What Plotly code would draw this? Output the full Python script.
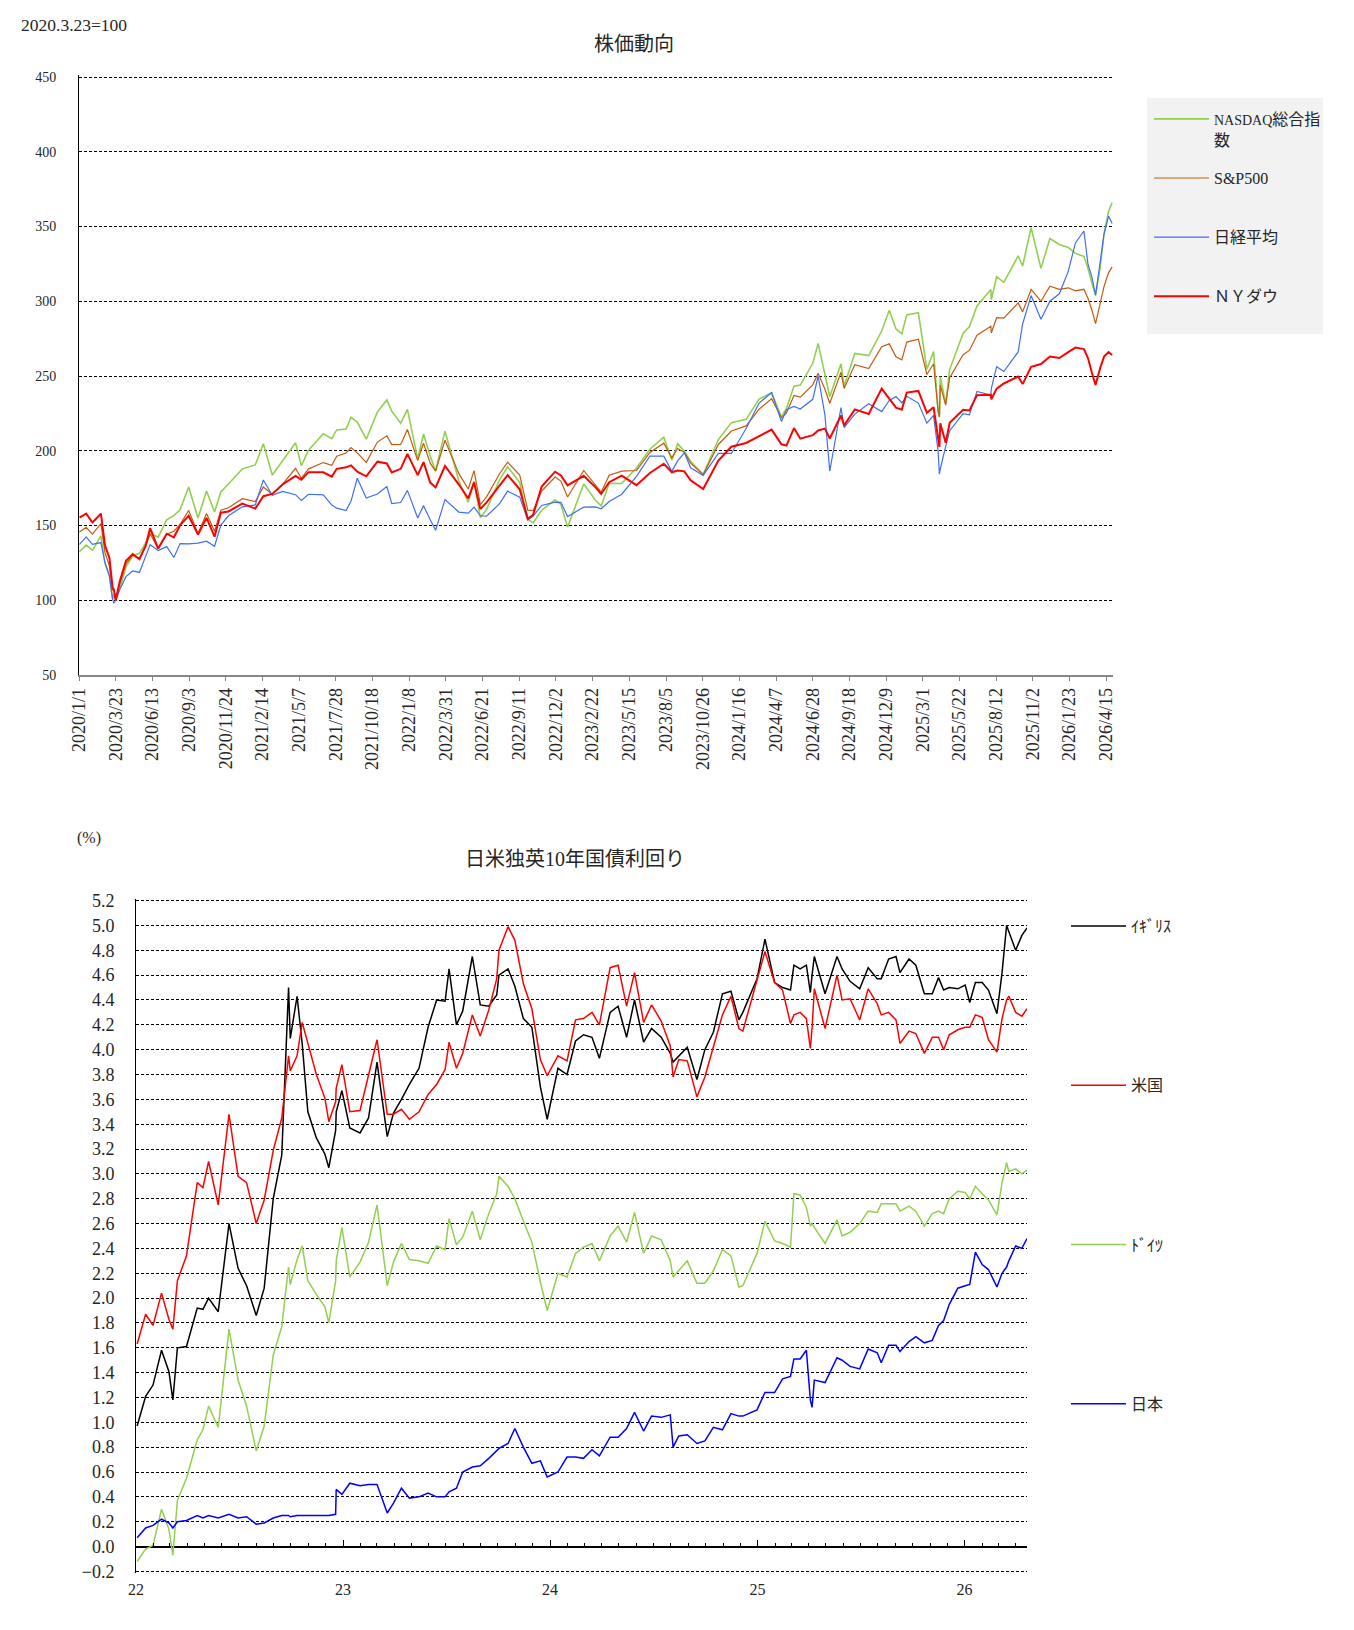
import pandas as pd
import plotly.graph_objects as go

FONT = "'Liberation Serif', 'Noto Sans CJK JP', serif"
TEXT = "#262626"

# ---------------- 株価動向 (2020.3.23 = 100) ----------------
STOCK_DATES = [
    "2020-01-02", "2020-01-17", "2020-01-31", "2020-02-19", "2020-02-28", "2020-03-09", "2020-03-16", "2020-03-19",
    "2020-03-23", "2020-04-01", "2020-04-15", "2020-04-30", "2020-05-15", "2020-05-29", "2020-06-08", "2020-06-26",
    "2020-07-15", "2020-07-31", "2020-08-14", "2020-09-02", "2020-09-23", "2020-10-12", "2020-10-30", "2020-11-13",
    "2020-11-30", "2020-12-31",
    "2021-01-29", "2021-02-16", "2021-03-08", "2021-03-31", "2021-04-29", "2021-05-12", "2021-05-28", "2021-06-30",
    "2021-07-19", "2021-07-30", "2021-08-20", "2021-08-31", "2021-09-14", "2021-10-04", "2021-10-29", "2021-11-19",
    "2021-11-30", "2021-12-20",
    "2022-01-04", "2022-01-27", "2022-02-09", "2022-02-24", "2022-03-08", "2022-03-29", "2022-04-29", "2022-05-20",
    "2022-06-02", "2022-06-16", "2022-06-30", "2022-07-29", "2022-08-16", "2022-09-12", "2022-09-30", "2022-10-12",
    "2022-10-31", "2022-11-30", "2022-12-13", "2022-12-28",
    "2023-02-02", "2023-02-28", "2023-03-13", "2023-03-31", "2023-04-28", "2023-05-31", "2023-06-30", "2023-07-31",
    "2023-08-18", "2023-08-31", "2023-09-15", "2023-09-29", "2023-10-27", "2023-11-30", "2023-12-29",
    "2024-01-31", "2024-02-29", "2024-03-28", "2024-04-19", "2024-04-30", "2024-05-17", "2024-05-31", "2024-06-28",
    "2024-07-10", "2024-07-25", "2024-08-05", "2024-08-30", "2024-09-06", "2024-09-30", "2024-10-31", "2024-11-29",
    "2024-12-16", "2024-12-31",
    "2025-01-13", "2025-01-24", "2025-02-19", "2025-03-10", "2025-03-25", "2025-04-04", "2025-04-07", "2025-04-09",
    "2025-04-21", "2025-04-30", "2025-05-30", "2025-06-13", "2025-06-30", "2025-07-31", "2025-08-01", "2025-08-13",
    "2025-08-29", "2025-09-30", "2025-10-10", "2025-10-29", "2025-11-20", "2025-12-10", "2025-12-31",
    "2026-01-20", "2026-02-05", "2026-02-24", "2026-03-05", "2026-03-14", "2026-03-22", "2026-04-01", "2026-04-10",
    "2026-04-20", "2026-04-28",
]

NASDAQ = [
    132.5, 136.9, 133.4, 143.1, 124.9, 115.9, 100.6, 104.2, 100.0, 107.3, 122.3, 129.6, 131.4, 138.3, 144.7, 142.2,
    153.8, 156.6, 160.6, 175.7, 155.0, 173.1, 159.1, 172.4, 177.8, 187.9,
    190.5, 204.7, 183.8, 193.1, 205.3, 190.0, 200.4, 211.4, 208.1, 213.9, 214.5, 222.4, 219.2, 207.8, 225.9, 234.0,
    226.5, 218.4,
    227.7, 194.6, 211.2, 196.4, 186.5, 213.1, 179.8, 165.5, 179.5, 155.2, 160.8, 180.6, 189.3, 178.8, 154.2, 151.8,
    160.2, 167.2, 164.1, 148.9,
    177.8, 167.0, 163.1, 178.1, 178.2, 188.5, 201.0, 209.1, 193.7, 204.6, 199.8, 192.7, 184.3, 207.4, 218.8,
    221.0, 234.6, 238.7, 222.7, 228.2, 243.2, 243.9, 258.5, 271.8, 250.4, 236.1, 258.2, 243.3, 265.1, 263.7, 280.1,
    294.0, 281.5,
    278.2, 290.8, 292.3, 254.6, 266.3, 227.2, 222.5, 249.6, 231.3, 254.3, 278.6, 282.9, 296.9, 307.9, 301.0, 316.5,
    312.7, 330.3, 323.6, 349.2, 322.0, 342.0, 338.0,
    336.0, 332.0, 330.0, 322.0, 312.0, 304.0, 322.0, 345.0, 360.0, 366.0,
]

SP500 = [
    145.6, 148.8, 144.2, 151.3, 132.0, 122.8, 106.6, 107.7, 100.0, 110.4, 124.4, 130.2, 128.0, 136.1, 144.5, 134.5,
    144.2, 146.2, 150.8, 160.0, 144.7, 158.0, 146.1, 160.2, 161.9, 167.9,
    166.0, 175.8, 170.8, 177.6, 188.2, 181.6, 187.9, 192.1, 190.3, 196.4, 198.5, 202.1, 198.6, 192.2, 205.8, 210.0,
    204.1, 204.2,
    214.2, 193.4, 205.0, 191.7, 186.4, 207.0, 184.7, 174.4, 186.7, 163.9, 169.2, 184.6, 192.4, 183.7, 160.3, 159.9,
    173.1, 182.4, 179.7, 169.1,
    186.8, 177.4, 172.3, 183.7, 186.4, 186.8, 198.9, 205.1, 195.3, 201.5, 198.9, 191.7, 184.0, 204.2, 213.2,
    216.6, 227.8, 234.8, 222.0, 225.1, 237.0, 235.9, 244.1, 251.8, 241.3, 231.8, 252.5, 241.7, 257.5, 255.0, 269.6,
    271.5, 262.9,
    260.8, 272.7, 274.6, 251.0, 258.2, 226.8, 222.7, 243.9, 230.5, 248.9, 264.2, 267.1, 277.3, 283.3, 278.8, 289.0,
    288.7, 298.9, 292.9, 307.9, 300.0, 310.0, 308.0,
    309.0, 307.0, 308.0, 302.0, 294.0, 285.0, 298.0, 310.0, 319.0, 323.0,
]

NIKKEI = [
    137.4, 142.4, 137.4, 138.6, 125.2, 116.6, 100.7, 98.0, 100.0, 107.0, 115.8, 119.6, 118.6, 129.5, 137.2, 133.3,
    135.9, 128.6, 137.9, 137.7, 138.2, 139.5, 136.1, 150.3, 156.5, 162.5,
    163.8, 180.4, 170.2, 172.8, 170.6, 166.7, 170.9, 170.5, 163.7, 161.6, 160.0, 166.3, 181.6, 168.4, 171.1, 176.1,
    164.7, 165.4,
    173.5, 155.0, 163.3, 153.8, 146.8, 167.3, 159.0, 158.3, 162.3, 156.5, 156.3, 164.6, 173.0, 169.0, 153.6, 156.3,
    163.4, 165.6, 165.5, 156.0,
    162.3, 162.5, 161.2, 166.0, 170.9, 182.9, 196.5, 196.4, 186.2, 193.2, 198.6, 188.6, 183.5, 198.3, 198.2,
    214.9, 231.9, 239.0, 219.5, 227.4, 229.7, 227.9, 234.4, 250.0, 224.2, 186.3, 228.9, 215.5, 224.5, 231.4, 226.2,
    233.6, 236.2,
    232.1, 236.4, 231.9, 218.4, 223.7, 200.0, 184.4, 187.8, 203.0, 213.4, 224.8, 224.0, 239.7, 237.3, 241.6, 256.2,
    253.0, 266.1, 284.8, 303.8, 288.0, 300.0, 305.0,
    320.0, 339.0, 347.0, 325.0, 316.0, 304.0, 325.0, 345.0, 357.0, 352.0,
]

NYDOW = [
    155.3, 157.9, 152.0, 157.9, 136.7, 128.3, 108.6, 107.0, 100.0, 112.6, 126.4, 130.9, 127.4, 136.5, 148.3, 134.6,
    144.5, 142.1, 150.2, 156.5, 143.9, 155.1, 142.5, 158.6, 159.4, 164.6,
    161.3, 169.6, 171.1, 177.4, 183.2, 180.7, 185.7, 185.6, 182.7, 187.9, 188.9, 190.2, 186.0, 182.9, 192.7, 191.5,
    185.5, 187.9,
    197.9, 183.7, 192.4, 178.7, 175.5, 189.8, 177.4, 168.1, 178.8, 161.0, 165.5, 176.7, 183.7, 174.2, 154.5, 157.1,
    176.1, 186.0, 183.5, 176.8,
    183.2, 175.7, 171.1, 179.0, 183.4, 177.0, 185.1, 191.3, 185.6, 186.8, 186.2, 180.2, 174.4, 193.4, 202.7,
    205.2, 209.7, 214.1, 204.3, 203.4, 215.2, 208.1, 210.4, 213.6, 214.8, 208.2, 223.6, 217.0, 227.7, 224.6, 241.6,
    235.1, 228.8,
    227.5, 238.9, 240.0, 225.4, 229.1, 206.1, 202.5, 218.4, 205.3, 218.7, 227.4, 227.0, 237.2, 237.4, 234.4, 241.6,
    245.0, 249.6, 244.6, 256.2, 258.0, 263.0, 262.0,
    266.0, 269.0, 268.0, 262.0, 252.0, 244.0, 255.0, 263.0, 266.0, 264.0,
]

STOCK_NAMES = [
    "<span style='font-size:14px'>NASDAQ</span>総合指<br>数",
    "S&P500<br>\u00a0",
    "日経平均<br>\u00a0",
    "ＮＹダウ<br>\u00a0",
]
STOCK_COLORS = ["#92d050", "#c55a11", "#3f6ff5", "#ff0000"]
STOCK_WIDTHS = [1.6, 1.2, 1.2, 2.0]

STOCK_TICK_LABELS = [
    "2020/1/1", "2020/3/23", "2020/6/13", "2020/9/3", "2020/11/24", "2021/2/14", "2021/5/7", "2021/7/28",
    "2021/10/18", "2022/1/8", "2022/3/31", "2022/6/21", "2022/9/11", "2022/12/2", "2023/2/22", "2023/5/15",
    "2023/8/5", "2023/10/26", "2024/1/16", "2024/4/7", "2024/6/28", "2024/9/18", "2024/12/9", "2025/3/1",
    "2025/5/22", "2025/8/12", "2025/11/2", "2026/1/23", "2026/4/15",
]

# ---------------- 日米独英10年国債利回り (%) ----------------
BOND_DATES = [
    "2022-01-03", "2022-01-18", "2022-01-31", "2022-02-15", "2022-02-28", "2022-03-07", "2022-03-15", "2022-03-31",
    "2022-04-19", "2022-04-29", "2022-05-09", "2022-05-26", "2022-06-14", "2022-06-30", "2022-07-15", "2022-08-01",
    "2022-08-15", "2022-08-31", "2022-09-15", "2022-09-27", "2022-09-30", "2022-10-12", "2022-10-21", "2022-10-31",
    "2022-11-15", "2022-11-30", "2022-12-07", "2022-12-19", "2022-12-20", "2022-12-30",
    "2023-01-13", "2023-01-31", "2023-02-15", "2023-03-02", "2023-03-20", "2023-03-31", "2023-04-14", "2023-04-28",
    "2023-05-15", "2023-05-31", "2023-06-15", "2023-06-30", "2023-07-07", "2023-07-20", "2023-07-31", "2023-08-17",
    "2023-08-31", "2023-09-15", "2023-09-29", "2023-10-03", "2023-10-19", "2023-10-31", "2023-11-15", "2023-11-30",
    "2023-12-15", "2023-12-27",
    "2024-01-15", "2024-01-31", "2024-02-15", "2024-02-29", "2024-03-15", "2024-03-28", "2024-04-16", "2024-04-30",
    "2024-05-15", "2024-05-29", "2024-06-14", "2024-06-28", "2024-07-15", "2024-07-31", "2024-08-05", "2024-08-15",
    "2024-08-30", "2024-09-16", "2024-09-30", "2024-10-15", "2024-10-31", "2024-11-15", "2024-11-29", "2024-12-06",
    "2024-12-31",
    "2025-01-14", "2025-01-31", "2025-02-14", "2025-02-28", "2025-03-06", "2025-03-17", "2025-03-28", "2025-04-04",
    "2025-04-07", "2025-04-11", "2025-04-30", "2025-05-21", "2025-05-30", "2025-06-13", "2025-06-30", "2025-07-15",
    "2025-07-31", "2025-08-07", "2025-08-20", "2025-09-02", "2025-09-09", "2025-09-25", "2025-10-07", "2025-10-22",
    "2025-11-05", "2025-11-16", "2025-11-25", "2025-12-05", "2025-12-20",
    "2026-01-02", "2026-01-10", "2026-01-20", "2026-02-01", "2026-02-12", "2026-02-27", "2026-03-08", "2026-03-16",
    "2026-03-20", "2026-04-01", "2026-04-12", "2026-04-21",
]

UK = [
    0.97, 1.21, 1.30, 1.58, 1.41, 1.18, 1.60, 1.61, 1.92, 1.91, 2.00, 1.89, 2.60, 2.24, 2.10, 1.86,
    2.08, 2.80, 3.15, 4.50, 4.09, 4.43, 4.05, 3.50, 3.29, 3.16, 3.05, 3.35, 3.50, 3.67,
    3.37, 3.33, 3.45, 3.90, 3.30, 3.49, 3.60, 3.72, 3.85, 4.18, 4.40, 4.39, 4.65, 4.20, 4.31, 4.75,
    4.36, 4.35, 4.44, 4.60, 4.65, 4.51, 4.25, 4.18, 3.70, 3.44,
    3.85, 3.80, 4.07, 4.12, 4.10, 3.93, 4.30, 4.35, 4.10, 4.40, 4.06, 4.17, 4.10, 3.97, 3.90, 3.95,
    4.02, 3.76, 4.00, 4.14, 4.45, 4.47, 4.24, 4.30, 4.57,
    4.89, 4.54, 4.50, 4.48, 4.68, 4.65, 4.68, 4.46, 4.60, 4.75, 4.45, 4.75, 4.65, 4.55, 4.49, 4.66,
    4.57, 4.57, 4.73, 4.75, 4.62, 4.73, 4.68, 4.45, 4.45, 4.58, 4.48, 4.50, 4.49,
    4.52, 4.38, 4.54, 4.54, 4.48, 4.29, 4.62, 5.00, 4.95, 4.80, 4.92, 4.98,
]

US = [
    1.63, 1.87, 1.78, 2.04, 1.83, 1.75, 2.14, 2.34, 2.93, 2.89, 3.10, 2.75, 3.48, 2.98, 2.93, 2.60,
    2.79, 3.19, 3.45, 3.95, 3.83, 3.95, 4.22, 4.05, 3.80, 3.61, 3.42, 3.58, 3.69, 3.88,
    3.50, 3.51, 3.80, 4.08, 3.48, 3.48, 3.52, 3.44, 3.50, 3.64, 3.72, 3.84, 4.06, 3.85, 3.97, 4.28,
    4.11, 4.32, 4.57, 4.80, 4.99, 4.88, 4.53, 4.33, 3.92, 3.79,
    3.95, 3.91, 4.24, 4.25, 4.30, 4.20, 4.66, 4.68, 4.35, 4.62, 4.22, 4.36, 4.23, 4.03, 3.78, 3.92,
    3.91, 3.62, 3.78, 4.03, 4.28, 4.43, 4.17, 4.15, 4.57,
    4.79, 4.54, 4.48, 4.21, 4.28, 4.30, 4.25, 4.01, 4.17, 4.49, 4.17, 4.60, 4.40, 4.41, 4.24, 4.49,
    4.37, 4.28, 4.30, 4.24, 4.05, 4.15, 4.13, 3.97, 4.10, 4.10, 4.00, 4.12, 4.16,
    4.18, 4.18, 4.28, 4.26, 4.08, 3.98, 4.25, 4.40, 4.43, 4.30, 4.27, 4.33,
]

DE = [
    -0.12, -0.02, 0.01, 0.30, 0.14, -0.07, 0.37, 0.55, 0.86, 0.94, 1.13, 0.96, 1.75, 1.34, 1.13, 0.77,
    0.97, 1.54, 1.77, 2.25, 2.11, 2.31, 2.42, 2.14, 2.03, 1.93, 1.80, 2.14, 2.30, 2.57,
    2.17, 2.29, 2.45, 2.75, 2.10, 2.29, 2.44, 2.31, 2.30, 2.28, 2.42, 2.39, 2.64, 2.43, 2.49, 2.70,
    2.47, 2.68, 2.84, 2.98, 2.90, 2.80, 2.62, 2.45, 2.13, 1.90,
    2.20, 2.17, 2.36, 2.41, 2.44, 2.30, 2.50, 2.58, 2.45, 2.69, 2.36, 2.50, 2.47, 2.30, 2.17, 2.22,
    2.30, 2.12, 2.12, 2.22, 2.39, 2.34, 2.09, 2.10, 2.36,
    2.62, 2.46, 2.44, 2.41, 2.84, 2.83, 2.73, 2.58, 2.60, 2.57, 2.44, 2.63, 2.50, 2.53, 2.60, 2.70,
    2.69, 2.76, 2.76, 2.76, 2.70, 2.74, 2.70, 2.58, 2.68, 2.70, 2.68, 2.80, 2.86,
    2.85, 2.80, 2.90, 2.84, 2.79, 2.67, 2.93, 3.09, 3.02, 3.04, 3.00, 3.03,
]

JP = [
    0.07, 0.15, 0.17, 0.22, 0.19, 0.15, 0.20, 0.21, 0.25, 0.23, 0.25, 0.23, 0.26, 0.23, 0.24, 0.18,
    0.19, 0.23, 0.25, 0.25, 0.24, 0.25, 0.25, 0.25, 0.25, 0.25, 0.25, 0.26, 0.46, 0.42,
    0.51, 0.49, 0.50, 0.50, 0.27, 0.35, 0.47, 0.39, 0.40, 0.43, 0.40, 0.40, 0.44, 0.47, 0.60, 0.64,
    0.65, 0.71, 0.77, 0.79, 0.83, 0.95, 0.80, 0.67, 0.69, 0.56,
    0.60, 0.72, 0.72, 0.71, 0.78, 0.73, 0.88, 0.88, 0.95, 1.08, 0.93, 1.05, 1.04, 1.06, 0.80, 0.89,
    0.90, 0.83, 0.85, 0.96, 0.94, 1.07, 1.05, 1.05, 1.10,
    1.24, 1.24, 1.35, 1.37, 1.51, 1.51, 1.58, 1.18, 1.12, 1.34, 1.32, 1.52, 1.50, 1.45, 1.43, 1.59,
    1.56, 1.48, 1.62, 1.62, 1.57, 1.65, 1.69, 1.64, 1.66, 1.78, 1.82, 1.95, 2.08,
    2.10, 2.11, 2.37, 2.27, 2.23, 2.09, 2.20, 2.25, 2.30, 2.42, 2.40, 2.48,
]

BOND_NAMES = ["ｲｷﾞﾘｽ", "米国", "ﾄﾞｲﾂ", "日本"]
BOND_COLORS = ["#000000", "#ff0000", "#92d050", "#0000ff"]
BOND_TICK_DATES = ["2022-01-01", "2023-01-01", "2024-01-01", "2025-01-01", "2026-01-01"]
BOND_TICK_LABELS = ["22", "23", "24", "25", "26"]

# ---------------- figure ----------------
W, H = 1354, 1630


def px_x(v):
    return v / W


def px_y(v):
    return 1 - v / H


fig = go.Figure()

stock_series = [NASDAQ, SP500, NIKKEI, NYDOW]
for name, vals, col, wd in zip(STOCK_NAMES, stock_series, STOCK_COLORS, STOCK_WIDTHS):
    fig.add_trace(go.Scatter(
        x=STOCK_DATES, y=vals, mode="lines", name=name, legendgroup=name,
        line=dict(color=col, width=wd), xaxis="x", yaxis="y", legend="legend",
    ))

bond_series = [UK, US, DE, JP]
for name, vals, col in zip(BOND_NAMES, bond_series, BOND_COLORS):
    fig.add_trace(go.Scatter(
        x=BOND_DATES, y=vals, mode="lines", name=name, legendgroup=name,
        line=dict(color=col, width=1.5), xaxis="x2", yaxis="y2", legend="legend2",
    ))

# carrier trace for the tick axis that sits on the 0% line
fig.add_trace(go.Scatter(
    x=BOND_DATES, y=JP, mode="lines", line=dict(color="rgba(0,0,0,0)", width=0),
    xaxis="x3", yaxis="y2", showlegend=False, hoverinfo="skip",
))

stock_tickvals = pd.to_datetime(STOCK_TICK_LABELS, format="%Y/%m/%d").strftime("%Y-%m-%d").tolist()

# plot areas (pixels); a 2 px pad lets the outermost dashed gridlines show
top_x = [px_x(79), px_x(1113)]
top_y = [px_y(675), px_y(75)]
stock_range = [50, 450 + 2 / 1.495]
bot_x = [px_x(136), px_x(1027)]
bot_y = [px_y(1573.4), px_y(898.6)]
bond_range = [-0.2 - 2 / 124.07, 5.2 + 2 / 124.07]
zero_pos = bot_y[0] + (0 - bond_range[0]) / (bond_range[1] - bond_range[0]) * (bot_y[1] - bot_y[0])
bond_xrange = ["2022-01-01", "2026-04-21"]

grid = dict(showgrid=True, gridcolor="#000000", gridwidth=1, griddash="3px,2px")

fig.update_layout(
    width=W, height=H,
    margin=dict(l=0, r=0, t=0, b=0, pad=0, autoexpand=False),
    paper_bgcolor="white", plot_bgcolor="white",
    font=dict(family=FONT, color=TEXT, size=14),
    xaxis=dict(
        domain=top_x, anchor="y", type="date", range=["2020-01-01", "2026-04-30"],
        tickmode="array", tickvals=stock_tickvals, ticktext=STOCK_TICK_LABELS,
        tickangle=-90, tickfont=dict(size=18, family=FONT, color=TEXT),
        ticks="outside", ticklen=4, tickcolor="#868686", automargin=False,
        showline=True, linecolor="#868686", linewidth=1.5, showgrid=False, zeroline=False,
    ),
    yaxis=dict(
        domain=top_y, anchor="x", range=stock_range, tickvals=[50, 100, 150, 200, 250, 300, 350, 400, 450],
        tickfont=dict(size=14, family=FONT, color=TEXT), ticklabelstandoff=19, automargin=False,
        showline=True, linecolor="#000000", linewidth=1, zeroline=False, ticks="",
        **grid,
    ),
    xaxis2=dict(
        domain=bot_x, anchor="y2", type="date", range=bond_xrange,
        tickmode="array", tickvals=BOND_TICK_DATES, ticktext=BOND_TICK_LABELS,
        tickangle=0, tickfont=dict(size=16, family=FONT, color=TEXT), automargin=False,
        ticks="", showline=False, showgrid=False, zeroline=False, ticklabelstandoff=5,
    ),
    xaxis3=dict(
        overlaying="x2", anchor="free", position=zero_pos, type="date", range=bond_xrange,
        tick0="2022-01-01", dtick="M12", ticks="inside", ticklen=7, tickcolor="#000000", tickwidth=1,
        minor=dict(ticks="inside", ticklen=4, dtick="M1", tick0="2022-01-01", tickcolor="#000000", showgrid=False),
        showticklabels=False, showline=False, showgrid=False, zeroline=False, automargin=False,
    ),
    yaxis2=dict(
        domain=bot_y, anchor="x2", range=bond_range, dtick=0.2, tick0=0, tickformat=".1f",
        tickfont=dict(size=18, family=FONT, color=TEXT), ticklabelstandoff=17, automargin=False,
        showline=True, linecolor="#000000", linewidth=1, ticks="",
        zeroline=True, zerolinecolor="#000000", zerolinewidth=1.5,
        **grid,
    ),
    legend=dict(
        x=px_x(1149), y=px_y(102), xanchor="left", yanchor="top",
        bgcolor="rgba(0,0,0,0)", borderwidth=0, font=dict(size=16, family=FONT, color=TEXT),
        itemwidth=55, tracegroupgap=14.5, traceorder="grouped", valign="top",
    ),
    legend2=dict(
        x=px_x(1066), y=px_y(909), xanchor="left", yanchor="top",
        bgcolor="rgba(0,0,0,0)", borderwidth=0, font=dict(size=16, family=FONT, color=TEXT),
        itemwidth=55, tracegroupgap=135.5, traceorder="grouped", valign="middle",
    ),
    showlegend=True,
    shapes=[
        dict(type="rect", xref="paper", yref="paper", layer="below",
             x0=px_x(1147), x1=px_x(1323), y0=px_y(334), y1=px_y(98),
             fillcolor="#f2f2f2", line=dict(width=0)),
    ],
    annotations=[
        dict(text="2020.3.23=100", x=px_x(19), y=px_y(25), xref="paper", yref="paper",
             xanchor="left", yanchor="middle", showarrow=False, font=dict(size=17.5, family=FONT, color=TEXT)),
        dict(text="株価動向", x=px_x(634), y=px_y(44), xref="paper", yref="paper",
             xanchor="center", yanchor="middle", showarrow=False, font=dict(size=20, family=FONT, color=TEXT)),
        dict(text="(%)", x=px_x(75), y=px_y(838), xref="paper", yref="paper",
             xanchor="left", yanchor="middle", showarrow=False, font=dict(size=16, family=FONT, color=TEXT)),
        dict(text="日米独英10年国債利回り", x=px_x(575), y=px_y(859), xref="paper", yref="paper",
             xanchor="center", yanchor="middle", showarrow=False, font=dict(size=20, family=FONT, color=TEXT)),
    ],
)

fig.write_html("out.html")
